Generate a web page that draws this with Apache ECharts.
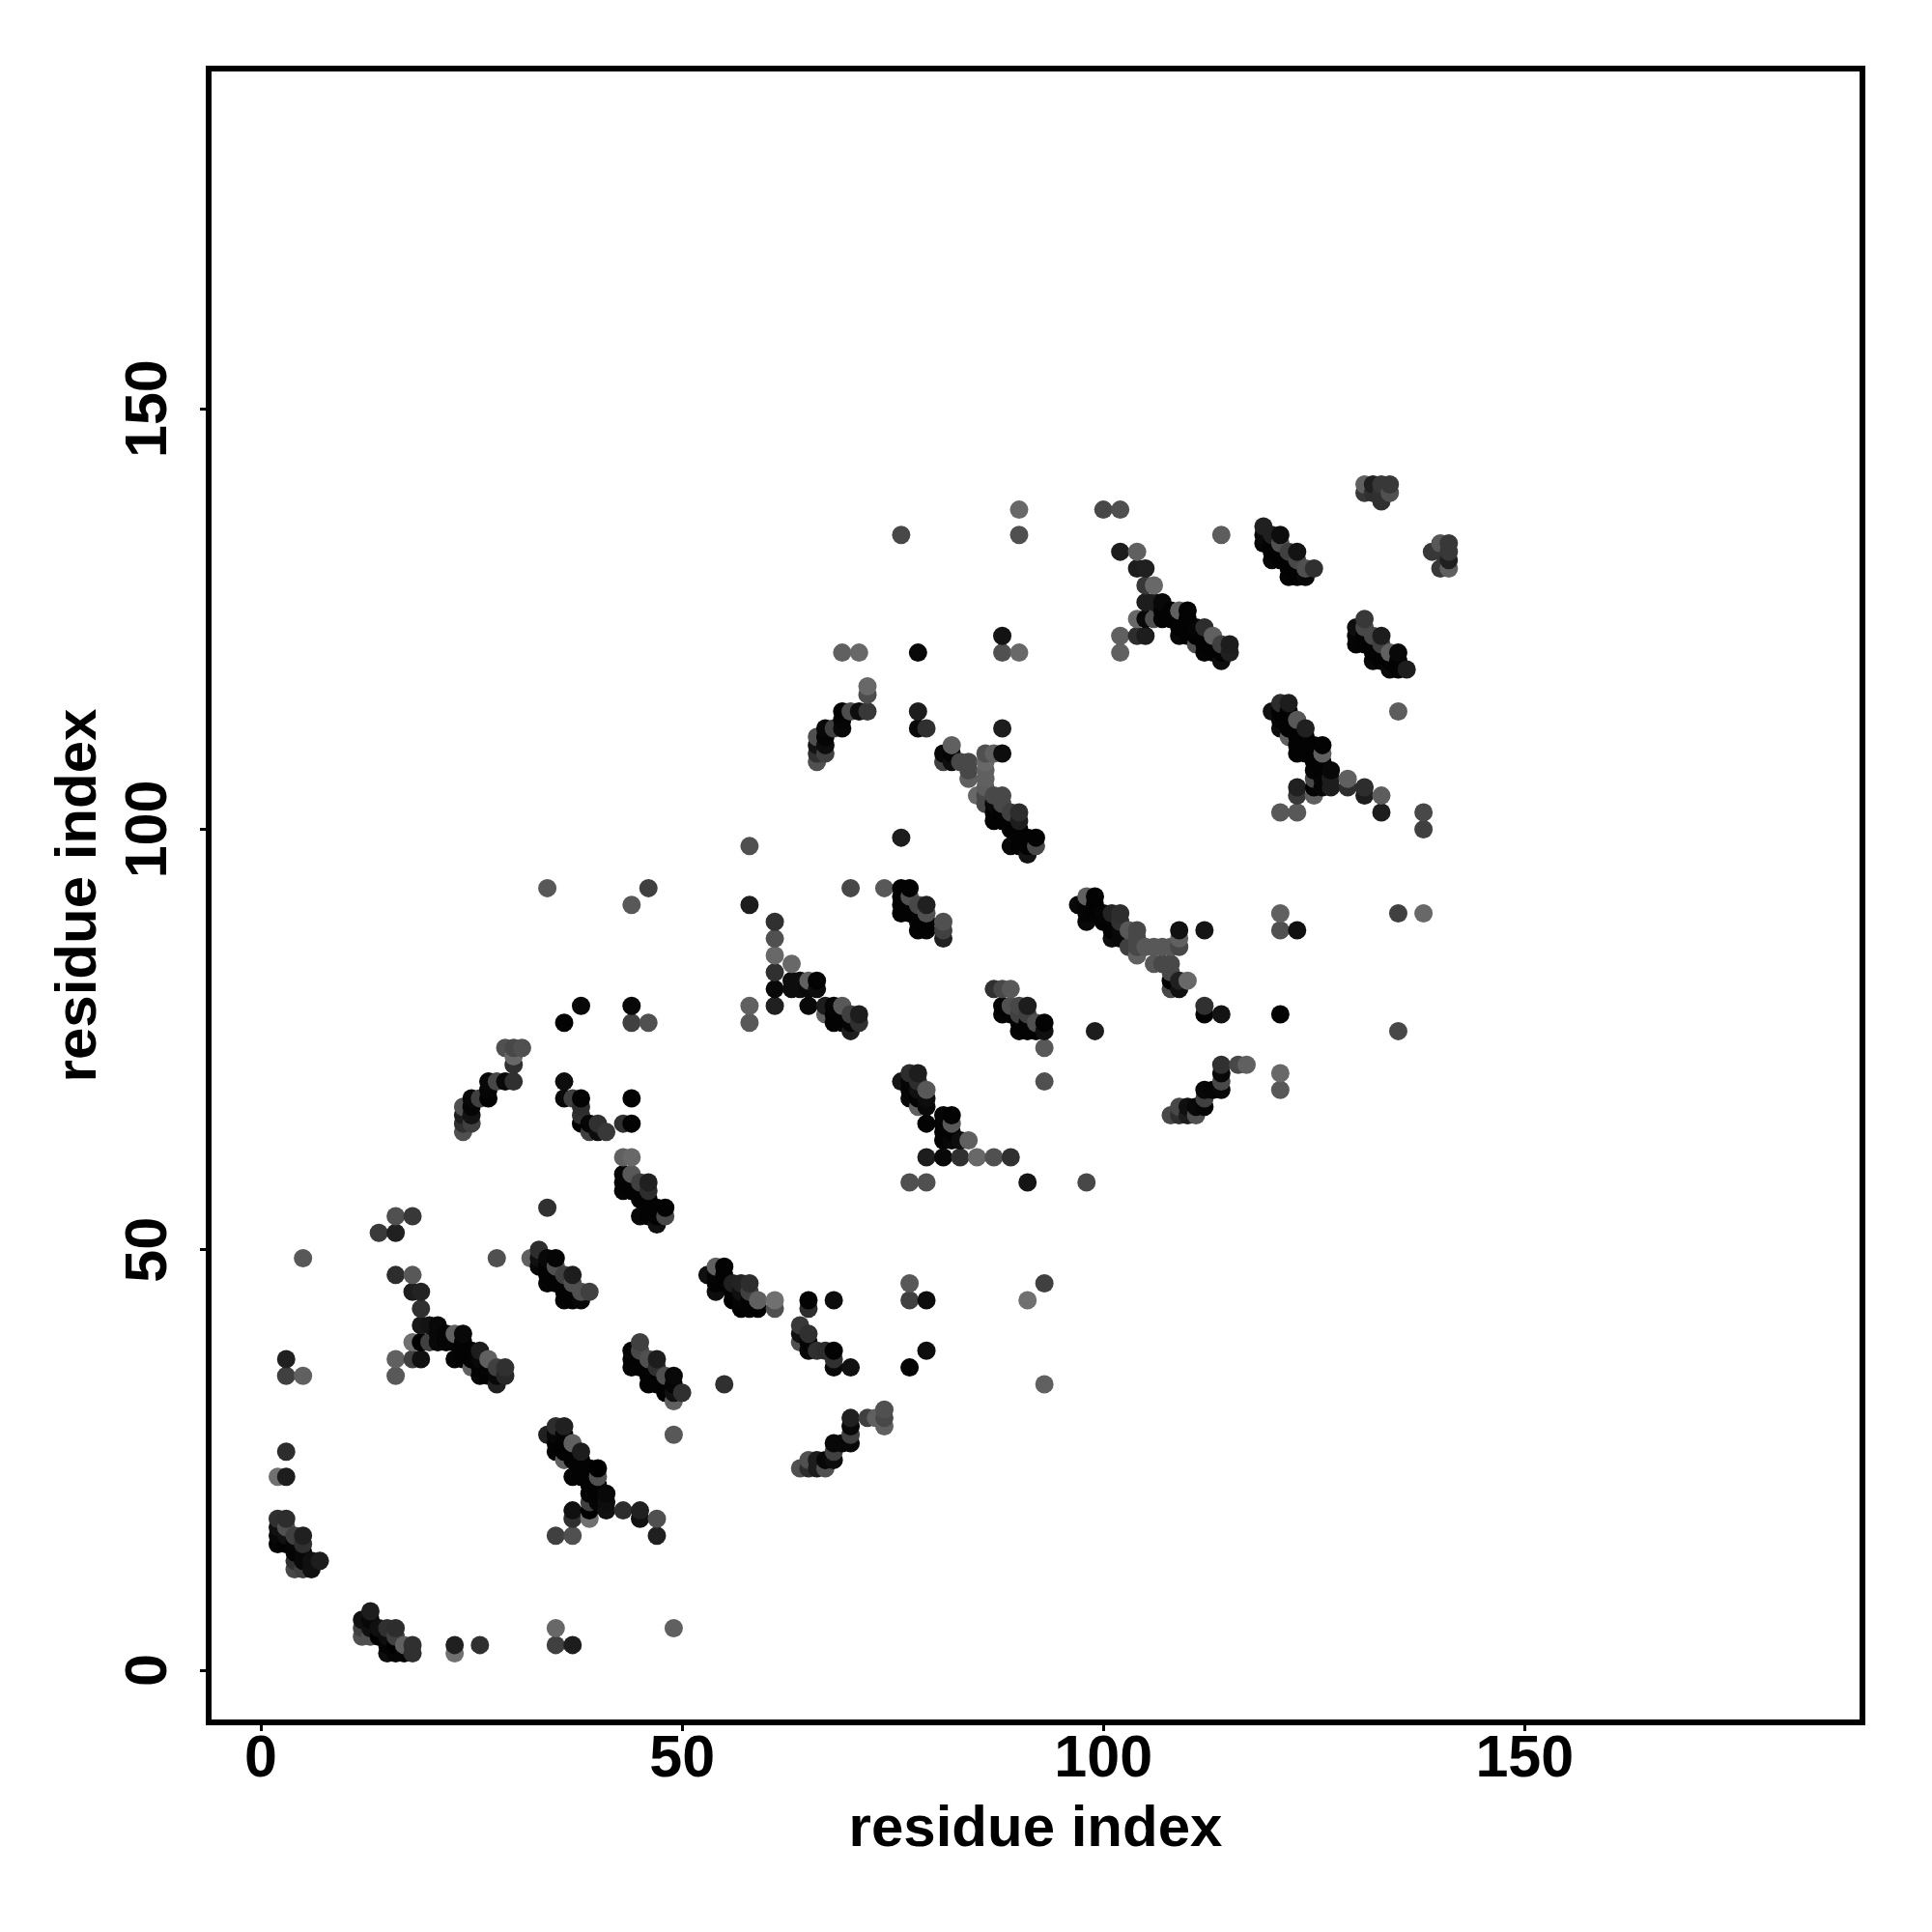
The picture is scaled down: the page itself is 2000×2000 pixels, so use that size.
<!DOCTYPE html>
<html><head><meta charset="utf-8">
<script src="https://cdn.jsdelivr.net/npm/echarts@6/dist/echarts.min.js"></script>
<style>html,body{margin:0;padding:0;background:#fff}#c{width:2000px;height:2000px}</style>
</head><body><div id="c"></div>
<script>
const tickValues=[0,50,100,150];
const axisTitle='residue index';
// each contact: [residue i, residue j, shade (0 = black ... 7 = lightest grey)]
const loopA=[[5,49,5.5],[3,37,2],[3,35,4],[5,35,6],[3,26,2.8],[2,23,7],[3,23,1.8],[2,18,3],[3,18,2.8],[2,17,1],[2,16,0.5],[2,15,0.3],[3,17,5],[3,16,1],[3,15,0.2],[4,16,4],[4,15,0.3],[4,14,0.2],[5,16,2],[5,15,3],[5,14,0.5],[5,13,0.5],[4,13,3],[4,12,4.5],[5,12,4],[6,13,1],[6,12,1],[7,13,1.8]];
const loopB=[[13,7,1.8],[12,6,1],[13,6,0.5],[12,5,4],[12,4,5],[13,4,5],[13,5,1],[14,5,1],[15,5,3],[16,5,2.8],[14,4,0],[15,4,0.8],[16,4,4],[15,3,0.3],[16,3,0],[17,3,6],[18,3,3],[15,2,0.8],[16,2,0.3],[17,2,0.3],[18,2,3],[23,3,2],[23,2,7],[26,3,3],[35,5,6.5],[35,3,4],[37,3,1.8],[49,5,6]];
const bandC=[[14,52,3.6],[16,52,2],[16,54,5],[18,54,3.5],[16,47,2.8],[18,47,5.5],[18,45,1.8],[19,45,2.2],[19,43,3],[19,41,1.5],[20,41,1.2],[21,41,0.5],[21,40,0.5],[22,40,0.3],[23,40,6],[24,40,0.5],[18,39,7],[19,39,0],[20,39,4],[21,39,0.5],[22,39,0.3],[23,39,0.3],[24,39,0.2],[24,38,0.2],[25,38,0.2],[26,38,1.8],[16,37,6],[18,37,4],[19,37,1],[23,37,0.3],[24,37,0.2],[25,37,0.2],[26,37,0.5],[27,37,6],[25,36,6],[26,36,0.2],[27,36,0.3],[28,36,4],[29,36,3],[26,35,0.3],[27,35,0.2],[28,35,0.5],[29,35,2.5],[28,34,2],[16,35,5.5]];
const bandD=[[28,49,5],[32,49,6],[33,50,2.8],[33,49,1],[34,49,0.5],[35,49,0.3],[33,48,0.5],[34,48,0.2],[35,48,5],[34,47,0.2],[34,46,0.3],[35,47,0.2],[35,46,0.2],[36,47,4],[37,47,1.8],[36,46,0.2],[37,46,5],[36,45,0.2],[37,45,0.2],[38,45,5],[39,45,4],[36,44,0.3],[37,44,0.2],[38,44,0.5]];
const bandE=[[45,39,4],[44,38,0.3],[44,37,0.2],[44,36,0.3],[45,38,4.5],[45,37,0.2],[45,36,0.2],[46,37,5],[47,37,1.8],[46,36,0.2],[46,35,0.2],[46,34,0.2],[47,36,3],[47,35,0.2],[47,34,0.2],[48,35,5],[49,35,0.5],[48,34,0.2],[48,33,0.2],[49,34,0.3],[49,33,1],[49,32,6],[50,33,3],[49,28,5.5],[55,34,3]];
const bandF=[[34,28,2],[35,29,2.8],[36,29,2],[35,28,0.5],[36,28,0.3],[37,27,6],[35,27,0.2],[35,26,0.3],[36,27,0.2],[36,26,0.2],[36,25,6],[37,26,0.2],[38,26,1.8],[37,25,0.2],[38,25,0.2],[37,23,0.3],[38,24,0.2],[38,23,0.2],[40,24,0],[40,23,5],[39,24,0.2],[39,23,0.2],[39,22,0.2],[40,22,0.2],[39,21,0.2],[40,21,0.2],[41,21,0.5],[41,20,0.8],[41,19,1],[40,20,0.3],[39,20,4],[39,19,0],[39,18,7],[37,19,1],[37,18,3],[43,19,2.8],[45,19,2],[45,18,1],[47,18,5],[47,16,2],[35,16,4],[37,16,5]];
const bandG=[[38,79,0.5],[36,77,0.2],[44,79,0.5],[44,77,4],[46,77,5],[36,70,0.8],[36,68,0.5],[37,68,4],[38,68,0.2],[38,67,2.8],[38,66,3],[38,65,0],[39,65,0.3],[40,65,3],[39,64,4],[40,64,0.8],[41,64,3.5],[44,68,0.2],[43,65,3],[44,65,0.2]];
const bandH=[[43,61,6],[44,61,6.5],[43,59,0.3],[43,58,0.2],[43,57,0.3],[44,59,5.5],[44,58,0.2],[44,57,0.2],[45,58,4],[46,58,2],[46,57,2.8],[45,57,0.2],[45,56,0.2],[46,56,0.2],[45,54,0.5],[46,55,0.2],[46,54,0.2],[47,55,0.2],[48,55,0.2],[48,54,4.5],[47,54,0.2],[47,53,1],[34,55,3]];
const strandI=[[29,74,5],[30,74,4.5],[31,74,5],[30,73,6.5],[30,72,3],[30,70,3],[29,70,0.5],[28,70,4.5],[27,70,0.5],[27,69,0.3],[27,68,0.2],[26,68,4],[25,68,0.5],[25,67,0.3],[25,66,1.2],[24,67,5],[24,66,1.8],[24,65,3],[24,64,5],[25,65,4]];
const bandJ=[[53,47,1],[54,48,6],[55,48,0.2],[54,47,0.3],[55,47,0.2],[54,46,0.2],[54,45,0.8],[55,46,0.2],[56,46,2],[57,46,2.2],[58,46,2.8],[56,45,0.2],[57,45,1],[58,45,4],[59,44,6],[61,44,7],[61,43,5],[57,44,0.3],[58,44,0.2],[57,43,0.2],[58,43,0.2],[59,43,0],[56,44,0],[65,44,0.2],[65,43,2.8],[68,44,0.8],[77,46,5.5],[77,44,4],[79,44,0.8],[64,41,3.5],[64,40,1],[64,39,5],[65,40,3],[65,39,0.3],[65,38,0.5],[66,38,3],[67,38,2.8],[68,38,0.2],[68,37,3],[68,36,0.5],[70,36,1],[79,38,0.8],[77,36,0.2],[93,46,4],[91,44,7],[93,34,6]];
const strandK=[[64,24,5],[65,25,5],[65,24,2.8],[66,24,1.8],[66,25,1.8],[67,24,5],[67,25,0.5],[68,25,0.8],[68,26,4],[68,27,0.5],[69,27,0.5],[70,27,0.5],[70,28,4],[70,29,0.5],[70,30,2],[72,30,4],[73,30,6],[74,31,5],[74,30,4.5],[74,29,6]];
const bandL=[[34,93,5.5],[44,91,5.5],[46,93,4],[58,98,5],[76,99,1.8],[58,91,1.8],[61,89,3],[61,87,5],[61,85,6.5],[61,83,3],[61,81,0.5],[61,79,2],[58,79,6],[58,77,5.5],[63,84,6.5],[63,82,0.8],[63,81,0.8],[64,82,0.8],[64,81,0.8],[65,82,6],[66,82,0.2],[66,81,0.8],[65,81,0.5],[65,79,0.5],[67,79,1.8],[68,79,0.3],[69,79,5.5],[67,78,6],[68,78,0.2],[68,77,0.2],[69,78,0.2],[69,77,0.2],[70,78,4],[71,78,1.8],[71,77,3],[70,76,1.8],[70,77,0.3]];
const bandM=[[70,93,4.5],[74,93,5.5],[76,93,0.2],[77,93,0.2],[76,92,0.2],[76,91,0.2],[76,90,0.2],[77,92,5],[78,91,4.5],[79,91,2],[77,91,0.2],[77,90,0.2],[78,90,0.2],[79,90,5],[78,88,0.3],[78,89,0.2],[79,89,0.2],[79,88,0.2],[81,89,5],[81,88,4],[81,87,2]];
const bandN=[[82,110,6],[81,109,0.5],[81,108,4],[82,109,0.3],[82,108,0.8],[83,108,4.5],[84,108,4.5],[84,107,4.5],[84,106,6],[86,109,5],[87,109,6],[88,109,0.8],[86,108,6.5],[86,107,6],[86,106,6],[86,105,5.8],[85,104,6.5],[86,104,4.5],[87,104,4.5],[88,104,4.5],[86,103,4.5],[87,103,0.5],[88,103,4.5],[89,102,4],[90,102,2.8],[87,102,0.2],[88,102,0.2],[87,101,0.2],[88,101,0.2],[89,101,0.2],[90,101,1.8],[89,100,0.2],[90,100,0.2],[89,98,0.5],[90,99,0.2],[90,98,0.2],[91,99,0.2],[92,99,0.2],[92,98,4.5],[91,98,0.2],[91,97,1.2],[78,114,1.8],[78,112,0.5],[79,112,3],[88,112,1.8]];
const strandO=[[72,117,6.5],[72,116,4.8],[72,114,3.5],[71,114,0.8],[70,114,4.8],[69,114,0.2],[69,113,0.3],[69,112,0.5],[68,112,4],[67,112,0.5],[67,111,0.3],[67,110,0.8],[66,111,5],[66,110,1.2],[66,109,3],[66,108,5],[67,109,4]];
const bandP=[[76,135,4.5],[90,138,6.5],[90,135,5],[100,138,4.5],[102,138,5],[114,135,5.8],[102,133,1.8],[104,133,6],[104,131,1.8],[105,131,2],[105,129,3.5],[106,129,6.5],[105,127,1.8],[106,127,1.8],[107,127,0.5],[104,125,6.5],[105,125,0.5],[106,125,5],[107,126,0.2],[107,125,0.2],[108,126,0.2],[108,125,0.2],[109,126,6],[110,126,0.2],[110,125,0.2],[109,125,0.2],[109,124,0.2],[109,123,0.5],[110,124,0.2],[111,124,0.3],[110,123,0.2],[111,123,0.2],[112,124,2.8],[113,123,6],[111,122,5],[112,123,0.2],[112,122,0.2],[112,121,0.3],[113,122,0.2],[113,121,0.2],[114,122,4],[115,122,1.8],[115,121,2],[114,121,0.2],[114,120,0.8],[102,123,6],[102,121,6],[104,123,2.8],[105,123,1.8],[69,121,6],[71,121,6.5],[78,121,0.5],[88,123,1.2],[88,121,5],[90,121,6.5]];
const bandQ=[[119,136,2],[119,135,0.5],[119,134,0.3],[120,135,2],[121,135,0.8],[120,134,0.2],[121,134,5],[120,132,0.5],[120,133,0.2],[121,133,0.2],[122,133,4],[123,133,1.2],[121,132,0.2],[122,132,0.2],[122,131,0.2],[122,130,0.3],[123,132,4.5],[123,131,0.2],[123,130,0.2],[124,131,5],[125,131,3],[124,130,0.5]];
const cornerR=[[131,141,6],[132,141,2],[133,141,3.5],[134,141,3.5],[131,140,3.5],[132,140,3],[133,140,3],[134,140,5],[133,139,3],[139,133,3.5],[140,134,5.5],[141,134,3.5],[140,133,3.5],[141,133,3.5],[141,132,2],[140,131,3.5],[141,131,6]];
const bandS=[[131,125,3.5],[130,124,0.8],[130,123,0.3],[130,122,0.3],[131,124,4.5],[131,123,0.2],[131,122,0.2],[132,123,4.5],[133,123,1.8],[132,122,0.2],[132,121,0.2],[132,120,0.5],[133,122,4],[133,121,0.2],[133,120,0.2],[134,121,6],[135,121,0.5],[134,120,0.2],[134,119,0.5],[135,120,0.2],[135,119,0.2],[136,119,1.8],[135,114,5.8]];
const bandT=[[120,114,1],[121,115,2.8],[122,115,1.8],[121,114,0.2],[122,114,0.2],[121,113,0.3],[121,112,0.8],[122,113,0.2],[122,112,0.2],[122,111,6],[123,113,5.5],[124,112,2],[123,112,0.2],[123,111,0.2],[123,110,0.2],[123,109,0.2],[124,111,0.2],[124,110,0.2],[124,109,0.2],[125,110,0.2],[126,110,0.2],[126,109,6],[125,109,0.2],[125,108,0.2],[125,107,0.3],[126,108,0.2],[126,107,0.2],[127,107,0.5],[127,106,1.8],[127,105,1.8],[125,106,4.5],[125,105,0.2],[125,104,6],[126,106,0.3],[126,105,0.3],[123,105,2],[123,104,3.5],[129,106,6],[129,105,2.8],[131,105,2.8],[131,104,1.8],[133,104,5.8],[133,102,1.8],[121,102,5.5],[123,102,5.5],[138,102,4.5],[138,100,4],[135,90,4],[138,90,6.5],[121,90,6],[121,88,5],[123,88,1]];
const bandU=[[99,76,1.8],[121,78,0.2],[135,76,4.5],[112,79,3],[112,78,0.2],[114,78,1.2],[109,88,1],[112,88,1.3],[109,87,6],[109,86,4.5],[97,91,0.5],[98,92,6],[99,92,0.2],[98,91,0.3],[98,89,0.5],[98,90,0.3],[99,91,0.2],[99,90,0.2],[100,90,0.3],[101,90,2.2],[102,90,2.8],[100,89,0.2],[101,89,0.2],[102,89,3],[101,87,0.8],[101,88,0.2],[102,88,0.5],[102,87,0.5],[103,88,5.5],[104,88,4.5],[103,86,4],[104,87,4.5],[104,86,4.5],[104,85,6],[105,86,5.5],[106,86,5.5],[107,86,5.5],[108,86,5.5],[106,84,5.5],[107,84,4.5],[108,84,4.5],[108,83,4.5],[109,82,2],[110,82,6.5],[108,82,0.2],[108,81,4.5],[109,81,1]];
const strandV=[[108,66,4.5],[109,67,4.5],[109,66,3],[110,67,1],[110,66,1.8],[111,66,5],[111,67,0.5],[112,67,0.3],[112,68,4],[112,69,0.5],[113,69,0.3],[114,69,0.5],[114,70,4.5],[114,71,0.5],[114,72,3],[116,72,4.5],[117,72,6],[121,71,6.5],[121,69,5.5],[98,58,4.5]];
const bandW=[[76,70,1.3],[77,71,2.8],[78,71,1.8],[77,70,0.3],[78,70,2.8],[77,69,0.3],[77,68,0.5],[78,69,1],[79,69,5.5],[78,68,0.2],[79,68,0.8],[78,67,6],[79,67,0.5],[79,65,0.2],[81,66,0.3],[82,66,0.2],[81,65,0.2],[82,65,5.5],[81,64,0.2],[81,63,0.2],[82,64,0.2],[82,63,0.5],[84,63,6],[83,63,0.8],[79,61,1.8],[81,61,0.5],[83,61,3],[85,61,6.5],[87,61,5],[89,61,3],[77,58,5],[79,58,5],[91,58,1.3],[93,74,5.5],[93,70,5]];
const bandX=[[87,81,3],[88,81,4.5],[89,81,5.5],[88,79,0.2],[88,78,0.3],[89,79,5],[90,79,4.5],[91,79,1.8],[89,78,0.2],[90,78,4],[91,78,4],[90,77,0.2],[90,76,0.3],[91,77,0.2],[91,76,0.2],[92,77,5],[93,77,0.2],[92,76,0.2],[93,76,1]];

const contacts=[loopA,loopB,bandC,bandD,bandE,bandF,bandG,bandH,strandI,bandJ,strandK,bandL,bandM,bandN,strandO,bandP,bandQ,cornerR,bandS,bandT,bandU,strandV,bandW,bandX].flat().sort((a,b)=>a[0]-b[0]||a[1]-b[1]);

const font='"Liberation Sans"';
function axis(extra,label){return Object.assign({type:'value',name:axisTitle,nameLocation:'middle',
  nameTextStyle:{fontFamily:font,fontWeight:'bold',fontSize:60,color:'#000'},
  splitLine:{show:false},axisLine:{show:false,onZero:false},
  axisTick:{show:true,length:9,lineStyle:{color:'#000',width:3},customValues:tickValues},
  axisLabel:Object.assign({fontFamily:font,fontWeight:'bold',fontSize:61,color:'#000',customValues:tickValues},label)},extra);}
const chart=echarts.init(document.getElementById('c'),null,{renderer:'canvas'});
chart.setOption({animation:false,backgroundColor:'#fff',
 grid:{left:216,top:71,width:1712,height:1712,show:true,borderColor:'#000',borderWidth:6,backgroundColor:'transparent'},
 xAxis:axis({min:-6.2,max:190.1,position:'bottom',nameGap:81},{margin:9}),
 yAxis:axis({min:-6.2,max:190.45,position:'left',nameGap:104},{margin:61,rotate:90,align:'center',verticalAlign:'middle'}),
 series:[{type:'scatter',symbol:'circle',symbolSize:19,silent:true,data:contacts,
   itemStyle:{opacity:1,color:p=>{const g=Math.round(p.value[2]*16).toString(16).padStart(2,'0');return '#'+g+g+g;}}}]
});
</script></body></html>
